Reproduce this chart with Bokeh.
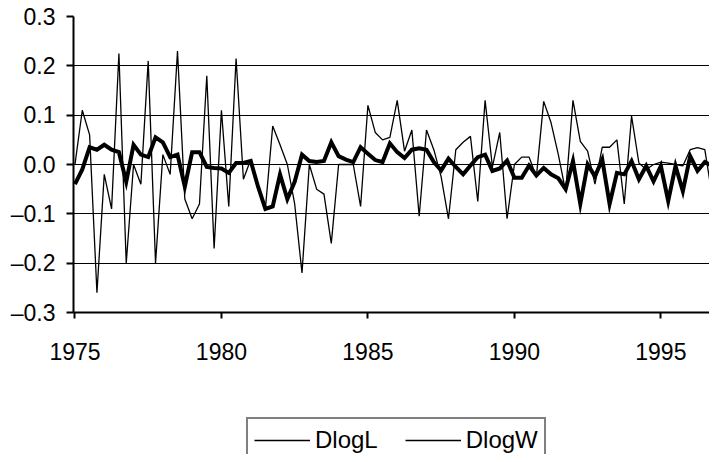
import numpy as np
from bokeh.plotting import figure
from bokeh.layouts import column
from bokeh.models import FixedTicker, CustomJSTickFormatter, Legend, LegendItem, Range1d
from bokeh.embed import file_html
from bokeh.resources import INLINE

# Quarterly data 1975Q1 - 1996Q4
start_year = 1975
dlogL = [0.00, 0.11, 0.06, -0.26, -0.02, -0.09, 0.225, -0.20, 0.00, -0.04,
         0.21, -0.20, 0.02, -0.02, 0.23, -0.07, -0.11, -0.08, 0.18, -0.17,
         0.11, -0.085, 0.215, -0.03, 0.01, -0.05, -0.09, 0.078, 0.04, 0.0,
         -0.08, -0.22, 0.0, -0.05, -0.06, -0.16, 0.0, 0.0, 0.0, -0.085,
         0.12, 0.065, 0.05, 0.055, 0.13, 0.027, 0.07, -0.105, 0.07, 0.03,
         -0.025, -0.11, 0.03, 0.045, 0.057, -0.075, 0.13, -0.005, 0.065, -0.11,
         0.0, 0.015, 0.015, -0.025, 0.128, 0.085, 0.02, -0.055, 0.13, 0.047,
         0.027, -0.04, 0.035, 0.035, 0.05, -0.08, 0.098, 0.003, -0.01, 0.0,
         0.005, 0.003, 0.0, -0.003, 0.03, 0.034, 0.03, -0.063]
dlogW = [-0.04, -0.01, 0.035, 0.03, 0.04, 0.03, 0.025, -0.035, 0.04, 0.02,
         0.015, 0.055, 0.045, 0.015, 0.02, -0.045, 0.025, 0.025, -0.005, -0.007,
         -0.008, -0.017, 0.003, 0.003, 0.007, -0.045, -0.09, -0.085, -0.02, -0.07,
         -0.035, 0.02, 0.007, 0.005, 0.007, 0.045, 0.017, 0.01, 0.005, 0.035,
         0.022, 0.009, 0.005, 0.043, 0.025, 0.013, 0.03, 0.033, 0.03, 0.005,
         -0.012, 0.012, -0.005, -0.02, -0.002, 0.015, 0.02, -0.013, -0.008, 0.008,
         -0.027, -0.027, -0.002, -0.022, -0.007, -0.02, -0.028, -0.05, 0.007, -0.08,
         0.0, -0.024, 0.01, -0.08, -0.017, -0.02, 0.007, -0.03, -0.003, -0.034,
         -0.003, -0.074, -0.003, -0.054, 0.017, -0.013, 0.005, -0.003]
x_ticks = [1975, 1980, 1985, 1990, 1995]
y_ticks = [-0.3, -0.2, -0.1, 0.0, 0.1, 0.2, 0.3]
series_names = ["DlogL", "DlogW"]

t = [start_year + i / 4 for i in range(len(dlogL))]

FONT = "Liberation Sans"

p = figure(width=709, height=377, output_backend="svg", toolbar_location=None,
           x_range=Range1d(1974.95, 1996.66), y_range=Range1d(-0.3, 0.3),
           min_border_left=73, min_border_right=0, min_border_top=16, min_border_bottom=65)
p.outline_line_color = None
p.background_fill_color = "white"
p.border_fill_color = "white"

p.xgrid.visible = False
p.ygrid.ticker = FixedTicker(ticks=y_ticks)
p.ygrid.grid_line_color = "black"
p.ygrid.grid_line_width = 1

p.xaxis.ticker = FixedTicker(ticks=x_ticks)
p.yaxis.ticker = FixedTicker(ticks=y_ticks)
p.yaxis.formatter = CustomJSTickFormatter(code="""
    const v = Math.round(tick * 10) / 10;
    return (v < 0 ? '\u2013' : '') + Math.abs(v).toFixed(1);
""")
for ax in (p.xaxis[0], p.yaxis[0]):
    ax.axis_line_color = "black"
    ax.axis_line_width = 2
    ax.major_tick_line_color = "black"
    ax.major_tick_line_width = 2
    ax.major_tick_in = 0
    ax.minor_tick_line_color = None
    ax.major_label_text_font = FONT
    ax.major_label_text_color = "black"
p.yaxis.major_tick_out = 7
p.yaxis.major_label_standoff = 11
p.yaxis.major_label_text_font_size = "23px"
p.xaxis.major_tick_out = 6
p.xaxis.major_label_standoff = 24
p.xaxis.major_label_text_font_size = "23px"

p.line(t, dlogL, line_color="black", line_width=1.3)
p.line(t, dlogW, line_color="black", line_width=4, line_join="miter")

# separate strip below the chart holding the legend (box runs off the bottom, as in the original)
lf = figure(width=709, height=77, output_backend="svg", toolbar_location=None,
            x_range=Range1d(0, 1), y_range=Range1d(0, 1), min_border=0)
lf.axis.visible = False
lf.grid.visible = False
lf.outline_line_color = None
r1 = lf.line([np.nan], [np.nan], line_color="black", line_width=1.5)
r2 = lf.line([np.nan], [np.nan], line_color="black", line_width=1.5)
legend = Legend(items=[LegendItem(label=series_names[0], renderers=[r1]),
                       LegendItem(label=series_names[1], renderers=[r2])],
                orientation="horizontal", location=(173, -9))
legend.border_line_color = "black"
legend.border_line_width = 2
legend.background_fill_alpha = 1
legend.label_text_font = FONT
legend.label_text_font_size = "24px"
legend.label_text_color = "black"
legend.glyph_width = 56
legend.label_standoff = 5
legend.spacing = 27
legend.padding = 6
legend.margin = 0
legend.label_height = 30
lf.add_layout(legend, "center")

layout = column(p, lf, spacing=0)
open("out.html", "w").write(file_html(layout, INLINE))
